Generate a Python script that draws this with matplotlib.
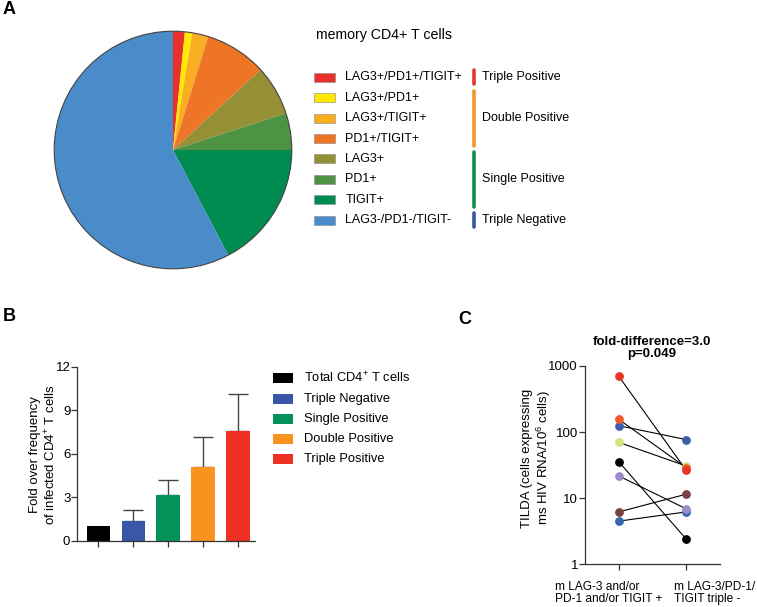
#recreate figure: pie of checkpoint marker subsets, fold enrichment bars, TILDA paired plot
import numpy as np
import matplotlib
matplotlib.use("Agg")
import matplotlib.pyplot as plt
from matplotlib.patches import Circle, Rectangle
from matplotlib.transforms import blended_transform_factory

plt.rcParams['font.family'] = ['Liberation Sans', 'DejaVu Sans']
plt.rcParams['font.size'] = 9
plt.rcParams['mathtext.fontset'] = 'custom'
plt.rcParams['mathtext.rm'] = 'Liberation Sans'
plt.rcParams['mathtext.it'] = 'Liberation Sans:italic'
plt.rcParams['mathtext.bf'] = 'Liberation Sans:bold'

#panel A data
pie_labels = ['LAG3+/PD1+/TIGIT+', 'LAG3+/PD1+', 'LAG3+/TIGIT+', 'PD1+/TIGIT+',
              'LAG3+', 'PD1+', 'TIGIT+', 'LAG3-/PD1-/TIGIT-']
pie_values = [1.6, 1.0, 2.2, 8.4, 6.8, 5.0, 17.3, 57.7]
pie_colors = ['#E8312A', '#FFE900', '#F9AE22', '#EE7525', '#958F35', '#4E9343', '#008C50', '#4A8BC9']
group_names = ['Triple Positive', 'Double Positive', 'Single Positive', 'Triple Negative']
group_sizes = [1, 3, 3, 1]
group_colors = ['#E2382D', '#F3952D', '#11904A', '#3B56A3']

#panel B data
bar_labels = ['Total CD4$^{+}$ T cells', 'Triple Negative', 'Single Positive', 'Double Positive', 'Triple Positive']
bar_values = [1.0, 1.35, 3.15, 5.05, 7.55]
bar_err = [0.0, 0.8, 1.05, 2.1, 2.55]
bar_colors = ['#000000', '#3A57A7', '#05915A', '#F7931E', '#EE3124']

#panel C data (paired donors, left = marker positive, right = triple negative)
tilda_pos = [4.5, 6.2, 21.7, 35.7, 70, 125, 156, 699]
tilda_neg = [6.2, 11.5, 6.9, 2.4, 30.7, 77, 29, 26.4]
donor_colors = ['#3865B0', '#7A4141', '#9C8CC9', '#000000', '#D7E27C', '#3B5DAA', '#F05A28', '#E8352A']
c_xlabels = ['m LAG-3 and/or\nPD-1 and/or TIGIT +', 'm LAG-3/PD-1/\nTIGIT triple -']

W, H = 757, 607
fig = plt.figure(figsize=(W / 100, H / 100), dpi=100)

def box(l, t, r, b):
    #pixel box (from top left) -> figure fraction rect
    return [l / W, 1 - b / H, (r - l) / W, (b - t) / H]

def ftext(x, y, s, **kw):
    fig.text(x / W, 1 - y / H, s, **kw)

spine_col = '#333333'

#---------------- A ----------------
axA = fig.add_axes(box(53, 30, 293, 270))
axA.pie(pie_values, colors=pie_colors, startangle=90, counterclock=False,
        wedgeprops=dict(linewidth=0))
axA.add_patch(Circle((0, 0), 1, fill=False, edgecolor='#444444', linewidth=0.8))
axA.set_xlim(-1.01, 1.01)
axA.set_ylim(-1.01, 1.01)
axA.set_aspect('auto')
axA.axis('off')

ftext(316, 35, 'memory CD4+ T cells', fontsize=10.2, va='center', ha='left')
y0, dy = 77.3, 20.4
for i, (lab, col) in enumerate(zip(pie_labels, pie_colors)):
    yc = y0 + i * dy
    fig.patches.append(Rectangle((314 / W, 1 - (yc + 4.5) / H), 21 / W, 9 / H,
                                 transform=fig.transFigure, facecolor=col,
                                 edgecolor='#888888', linewidth=0.4))
    ftext(345.5, yc, lab, fontsize=9, va='center', ha='left')

idx = 0
for name, n, col in zip(group_names, group_sizes, group_colors):
    top = y0 + idx * dy - 8
    bot = y0 + (idx + n - 1) * dy + 8
    fig.add_artist(plt.Line2D([474 / W, 474 / W], [1 - (top + 1) / H, 1 - (bot - 1) / H],
                              transform=fig.transFigure, color=col, linewidth=2.6,
                              solid_capstyle='round'))
    ftext(481.5, (top + bot) / 2, name, fontsize=9, va='center', ha='left')
    idx += n

ftext(3, 10, 'A', fontsize=13, fontweight='bold', va='center', ha='left')

#---------------- B ----------------
axB = fig.add_axes(box(77.3, 366.7, 255, 540.7))
xb = np.arange(len(bar_values))
axB.bar(xb, bar_values, width=0.667, color=bar_colors, zorder=2)
axB.errorbar(xb[1:], bar_values[1:], yerr=[np.zeros(len(bar_err) - 1), bar_err[1:]],
             fmt='none', ecolor='#444444', elinewidth=1, capsize=7.5, capthick=1, zorder=1)
axB.set_xlim(-0.6, 4.49)
axB.set_ylim(0, 12)
axB.set_yticks([0, 3, 6, 9, 12])
axB.set_xticks(xb)
axB.set_xticklabels([])
for s in ['top', 'right']:
    axB.spines[s].set_visible(False)
for s in ['left', 'bottom']:
    axB.spines[s].set_color(spine_col)
    axB.spines[s].set_linewidth(0.9)
axB.tick_params(direction='out', length=4, width=0.9, color=spine_col, labelsize=9.5, pad=1)

ftext(35, 455, 'Fold over frequency', rotation=90, fontsize=9.5, va='center', ha='center')
ftext(51, 455, 'of infected CD4$^{+}$ T cells', rotation=90, fontsize=9.5, va='center', ha='center')

for i, (lab, col) in enumerate(zip(bar_labels, bar_colors)):
    yc = 378.3 + i * 20.25
    fig.patches.append(Rectangle((273.3 / W, 1 - (yc + 5) / H), 20 / W, 10 / H,
                                 transform=fig.transFigure, facecolor=col, edgecolor='none'))
    ftext(304, yc, lab, fontsize=9.3, va='center', ha='left')

ftext(3, 317, 'B', fontsize=13, fontweight='bold', va='center', ha='left')

#---------------- C ----------------
axC = fig.add_axes(box(585, 366, 720, 564.3))
for a, b, col in zip(tilda_pos, tilda_neg, donor_colors):
    axC.plot([0, 1], [a, b], color='black', linewidth=0.8, zorder=1)
for a, b, col in zip(tilda_pos, tilda_neg, donor_colors):
    axC.plot([0, 1], [a, b], linestyle='none', marker='o', markersize=5.3,
             color=col, zorder=2)
axC.set_yscale('log')
axC.set_ylim(1, 1000)
axC.set_xlim(-0.5, 1.5)
axC.set_yticks([1, 10, 100, 1000])
axC.set_yticklabels(['1', '10', '100', '1000'])
axC.yaxis.set_minor_locator(matplotlib.ticker.NullLocator())
axC.set_xticks([0, 1])
axC.set_xticklabels([])
for s in ['top', 'right']:
    axC.spines[s].set_visible(False)
for s in ['left', 'bottom']:
    axC.spines[s].set_color(spine_col)
    axC.spines[s].set_linewidth(0.9)
axC.tick_params(direction='out', length=4, width=0.9, color=spine_col, labelsize=9.5, pad=1)

trans = blended_transform_factory(axC.transData, fig.transFigure)
for xl, lab in zip([-0.944, 0.819], c_xlabels):
    axC.text(xl, 1 - 581 / H, lab, transform=trans, fontsize=8.6, va='top', ha='left',
             multialignment='left', linespacing=1.05)

ftext(652, 348, 'fold-difference=3.0\np=0.049', fontsize=9.5, fontweight='bold',
      va='center', ha='center', linespacing=1.1)
ftext(527, 458, 'TILDA (cells expressing', rotation=90, fontsize=9.5, va='center', ha='center')
ftext(544, 458, 'ms HIV RNA/10$^{6}$ cells)', rotation=90, fontsize=9.5, va='center', ha='center')

ftext(458, 319, 'C', fontsize=13, fontweight='bold', va='center', ha='left')

fig.savefig('out.png', dpi=100)
plt.close(fig)
